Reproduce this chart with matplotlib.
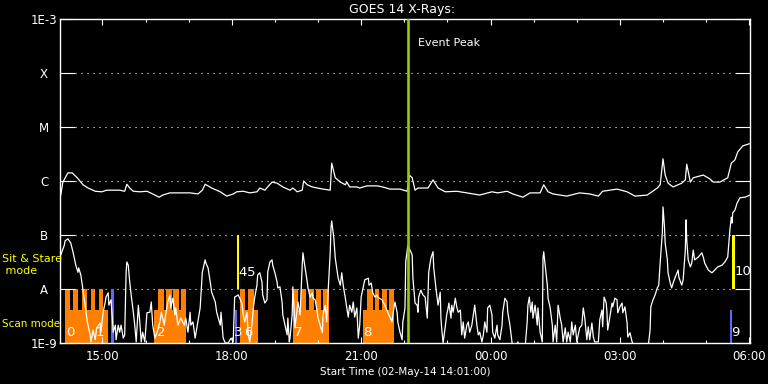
import matplotlib
matplotlib.use("Agg")
import matplotlib.pyplot as plt
import numpy as np
from matplotlib.ticker import FixedLocator, NullLocator, FixedFormatter

TITLE = "GOES 14 X-Rays:"
XLABEL = "Start Time (02-May-14 14:01:00)"

# times in minutes after 2014-05-02 14:01:00, flux as log10(W/m^2)
LONG_T = [1, 4, 11, 17, 24, 32, 39, 49, 58, 65,
          74, 83, 90, 93, 97, 102, 111, 121, 129, 138,
          143, 153, 163, 171, 181, 192, 198, 202, 211, 223,
          232, 241, 246, 255, 264, 274, 278, 285, 289, 295,
          302, 310, 320, 324, 330, 337, 339, 344, 351, 358,
          366, 376, 378, 383, 390, 397, 399, 403, 413, 417,
          427, 441, 449, 459, 473, 483, 486, 490, 494, 498,
          512, 519, 526, 536, 552, 566, 584, 601, 609, 622,
          630, 644, 654, 668, 673, 679, 686, 705, 723, 737,
          749, 755, 775, 789, 800, 817, 831, 835, 839, 842,
          846, 853, 865, 870, 872, 877, 881, 895, 904, 909,
          918, 929, 934, 939, 943, 950, 959]
LONG_LOG = [-6.26, -6.02, -5.85, -5.85, -5.94, -6.07, -6.13, -6.19, -6.20, -6.17,
            -6.17, -6.17, -6.19, -6.06, -6.13, -6.19, -6.20, -6.19, -6.24, -6.30,
            -6.26, -6.22, -6.22, -6.22, -6.22, -6.24, -6.17, -6.06, -6.13, -6.20,
            -6.28, -6.24, -6.20, -6.19, -6.22, -6.20, -6.13, -6.17, -6.11, -6.02,
            -6.04, -6.11, -6.17, -6.13, -6.20, -6.17, -6.00, -6.07, -6.11, -6.13,
            -6.15, -6.17, -5.67, -5.94, -6.02, -6.07, -6.02, -6.11, -6.11, -6.13,
            -6.09, -6.09, -6.11, -6.15, -6.15, -6.19, -5.89, -5.94, -6.17, -6.13,
            -6.13, -5.98, -6.13, -6.20, -6.19, -6.22, -6.26, -6.20, -6.22, -6.19,
            -6.24, -6.30, -6.22, -6.22, -6.07, -6.20, -6.24, -6.28, -6.22, -6.24,
            -6.28, -6.19, -6.15, -6.20, -6.28, -6.26, -6.13, -6.07, -5.59, -5.89,
            -6.04, -6.11, -6.04, -5.98, -5.69, -6.02, -5.94, -5.89, -5.96, -6.02,
            -6.02, -5.94, -5.67, -5.61, -5.46, -5.35, -5.31]

SHORT_T = [1, 6, 7, 11, 15, 18, 22, 25, 26, 29,
           32, 35, 38, 42, 43, 46, 49, 51, 56, 57,
           60, 63, 64, 67, 68, 71, 72, 74, 77, 78,
           81, 83, 85, 88, 90, 92, 93, 95, 97, 99,
           102, 104, 106, 109, 111, 113, 115, 118, 121, 125,
           127, 129, 132, 135, 139, 141, 145, 147, 150, 153,
           154, 157, 160, 161, 164, 168, 173, 175, 178, 181,
           182, 185, 188, 191, 195, 198, 202, 203, 206, 209,
           211, 216, 218, 223, 224, 227, 230, 234, 238, 241,
           243, 248, 250, 253, 255, 257, 260, 262, 264, 267,
           269, 271, 274, 275, 278, 281, 282, 285, 288, 289,
           292, 295, 296, 299, 302, 303, 306, 309, 310, 313,
           316, 317, 319, 320, 323, 324, 327, 330, 331, 334,
           337, 338, 341, 344, 345, 348, 351, 352, 355, 358,
           359, 362, 365, 366, 369, 371, 373, 376, 377, 378,
           381, 383, 385, 387, 390, 392, 394, 397, 399, 401,
           403, 406, 408, 410, 413, 415, 417, 419, 422, 424,
           429, 430, 433, 435, 438, 441, 442, 448, 452, 456,
           462, 463, 466, 469, 470, 473, 476, 477, 480, 481,
           484, 487, 490, 491, 493, 494, 497, 498, 499, 502,
           505, 508, 511, 512, 513, 516, 519, 520, 523, 526,
           529, 530, 531, 533, 536, 538, 540, 541, 544, 545,
           547, 550, 552, 554, 557, 559, 561, 563, 566, 568,
           570, 573, 575, 577, 580, 582, 584, 587, 589, 591,
           594, 595, 598, 601, 602, 605, 608, 609, 612, 615,
           616, 619, 622, 623, 626, 629, 633, 637, 640, 647,
           650, 651, 653, 655, 657, 658, 661, 664, 665, 668,
           671, 672, 673, 675, 678, 679, 682, 685, 686, 689,
           691, 693, 696, 698, 700, 703, 705, 707, 710, 712,
           714, 717, 719, 721, 723, 726, 728, 730, 733, 735,
           737, 740, 742, 744, 749, 751, 754, 755, 757, 760,
           761, 762, 765, 768, 769, 772, 775, 776, 779, 782,
           783, 786, 789, 790, 793, 796, 800, 818, 821, 822,
           825, 828, 831, 833, 835, 838, 839, 841, 842, 845,
           846, 849, 851, 853, 856, 860, 861, 865, 867, 870,
           871, 872, 874, 877, 879, 881, 883, 888, 893, 895,
           897, 902, 907, 911, 915, 921, 925, 929, 932, 934,
           935, 936, 939, 942, 946, 953, 960]
SHORT_LOG = [-7.37, -7.19, -7.11, -7.07, -7.15, -7.31, -7.56, -7.69, -7.61, -7.74,
             -8.02, -8.30, -8.61, -8.85, -8.98, -8.76, -8.94, -8.72, -8.63, -8.80,
             -8.43, -8.24, -8.15, -8.07, -8.30, -8.20, -8.39, -8.80, -8.67, -8.94,
             -8.67, -8.80, -8.67, -8.91, -8.85, -7.69, -7.50, -7.56, -7.87, -8.11,
             -8.43, -8.67, -8.98, -8.30, -8.61, -8.98, -8.80, -8.98, -8.44, -8.43,
             -8.24, -8.67, -8.91, -8.80, -8.61, -8.43, -8.67, -8.48, -8.24, -8.11,
             -8.35, -8.17, -8.48, -8.35, -8.67, -8.54, -8.67, -8.54, -8.80, -8.43,
             -8.67, -8.61, -8.91, -8.67, -8.35, -7.69, -7.46, -7.52, -7.61, -7.87,
             -8.06, -8.24, -8.43, -8.67, -8.43, -8.91, -9.00, -9.00, -8.91, -8.98,
             -8.15, -8.11, -8.17, -8.26, -8.48, -8.61, -8.43, -8.85, -8.98, -8.67,
             -8.35, -8.15, -7.93, -7.74, -7.70, -7.87, -8.11, -8.26, -8.20, -7.69,
             -7.50, -7.46, -7.56, -7.70, -7.87, -7.98, -7.96, -8.24, -8.48, -8.67,
             -8.85, -8.54, -8.98, -8.91, -8.48, -7.96, -8.72, -8.35, -8.24, -8.48,
             -7.56, -7.33, -7.61, -7.87, -7.98, -8.15, -8.07, -8.17, -8.20, -8.43,
             -8.54, -8.67, -8.81, -8.48, -8.30, -8.61, -8.06, -7.31, -6.87, -6.74,
             -7.06, -7.43, -7.61, -7.80, -7.93, -7.70, -7.93, -8.17, -8.35, -8.52,
             -8.30, -8.43, -8.24, -8.52, -8.35, -8.91, -8.67, -8.15, -7.96, -7.83,
             -7.80, -7.93, -7.89, -8.06, -8.15, -8.11, -8.15, -8.20, -8.30, -8.43,
             -8.61, -8.48, -8.24, -8.43, -8.61, -8.80, -8.94, -8.61, -8.35, -7.50,
             -7.19, -7.28, -7.37, -7.80, -8.11, -8.26, -8.30, -8.43, -8.15, -8.02,
             -8.11, -8.15, -8.54, -8.11, -7.69, -7.43, -7.31, -7.61, -7.98, -8.30,
             -8.06, -8.54, -8.72, -9.00, -8.70, -8.48, -8.35, -8.26, -8.54, -8.30,
             -8.43, -8.17, -8.33, -8.43, -8.39, -8.85, -8.61, -8.91, -8.67, -8.61,
             -8.80, -8.67, -8.48, -8.30, -8.67, -8.85, -8.80, -8.98, -8.85, -8.61,
             -8.80, -8.35, -8.30, -8.48, -8.80, -8.91, -8.67, -8.85, -8.94, -8.67,
             -8.43, -8.17, -8.24, -8.43, -8.67, -9.00, -9.10, -8.98, -9.10, -9.10,
             -8.61, -8.30, -8.15, -8.43, -8.24, -8.54, -8.30, -8.67, -8.35, -8.80,
             -8.98, -7.43, -7.31, -7.56, -7.93, -8.17, -8.35, -8.67, -8.98, -8.67,
             -8.98, -8.30, -8.54, -8.67, -8.98, -8.72, -8.98, -8.80, -8.98, -8.61,
             -8.85, -8.67, -8.98, -8.85, -8.72, -8.67, -8.35, -8.52, -8.94, -8.70,
             -8.94, -8.63, -8.89, -8.98, -8.98, -8.57, -8.39, -8.70, -8.15, -8.26,
             -8.44, -8.76, -8.52, -8.26, -8.33, -8.17, -8.20, -8.44, -8.33, -8.26,
             -8.44, -8.33, -8.63, -8.89, -8.81, -8.98, -9.10, -9.10, -8.76, -8.33,
             -8.20, -8.11, -7.98, -7.93, -7.52, -6.96, -6.48, -6.85, -7.15, -7.46,
             -7.70, -7.89, -7.98, -7.89, -7.78, -7.65, -7.78, -7.93, -7.83, -7.28,
             -6.72, -7.09, -7.46, -7.59, -7.52, -7.28, -7.46, -7.41, -7.33, -7.41,
             -7.52, -7.65, -7.70, -7.65, -7.59, -7.56, -7.50, -7.41, -6.91, -6.67,
             -6.78, -6.59, -6.54, -6.41, -6.31, -6.30, -6.26]

# observing mode bars (minutes after start, log10 level)
SCAN_START = [7, 14, 18.5, 25.5, 30, 37, 42.5, 48.5, 54.5, 60,
              131, 137, 144, 147.5, 155.5, 157.5, 165.5, 168,
              251, 257.5, 262, 269.5,
              324, 331, 335, 342, 346.5, 353, 356, 363, 366,
              421, 427, 436, 438, 444, 447.5, 454.5, 458]
SCAN_END = [14, 18.5, 25.5, 30, 37, 42.5, 48.5, 54.5, 60, 67,
            137, 144, 147.5, 155.5, 157.5, 165.5, 168, 175,
            257.5, 262, 269.5, 275,
            331, 335, 342, 346.5, 353, 356, 363, 366, 374,
            427, 436, 438, 444, 447.5, 454.5, 458, 465]
SCAN_LOG = [-8.0, -8.39, -8.0, -8.39, -8.0, -8.39, -8.0, -8.39, -8.0, -8.39,
            -8.39, -8.0, -8.39, -8.0, -8.39, -8.0, -8.39, -8.0,
            -8.0, -8.39, -8.0, -8.39,
            -8.0, -8.39, -8.0, -8.39, -8.0, -8.39, -8.0, -8.39, -8.0,
            -8.39, -8.0, -8.39, -8.0, -8.39, -8.0, -8.39, -8.0]

BLUE_START = [70.5, 243.5, 931.5]
BLUE_END = [74.5, 246.0, 935.5]
BLUE_LOG = [-8.0, -8.39, -8.39]

SIT_START = [246.0, 934.5]
SIT_END = [249.0, 939.0]
SIT_LOG_LOW = [-8.0, -8.0]
SIT_LOG_HIGH = [-7.0, -7.0]

EVENT_PEAK = 483.5

NUM_TEXT = ["0", "1", "2", "3", "6", "4", "5", "7", "8", "9", "10"]
NUM_T = [8, 49, 135, 242, 256, 248, 260, 326, 422, 934, 939]
NUM_LOG = [-8.80, -8.80, -8.80, -8.80, -8.80, -7.69, -7.69, -8.80, -8.80, -8.80, -7.67]

XTICK_POS = [59, 239, 419, 599, 779, 959]
XTICK_LABELS = ["15:00", "18:00", "21:00", "00:00", "03:00", "06:00"]
XMINOR_POS = [59, 119, 179, 239, 299, 359, 419, 479, 539, 599, 659, 719, 779, 839, 899, 959]
YTICK_LOG = [-9, -8, -7, -6, -5, -4, -3]
YTICK_LABELS = ["1E-9", "A", "B", "C", "M", "X", "1E-3"]
GRID_LOG = [-8, -7, -6, -5, -4]

plt.rcParams['font.family'] = ['DejaVu Sans']
W, H = 768, 384
fig = plt.figure(figsize=(W / 100, H / 100), dpi=100, facecolor='black')
ax = fig.add_axes([60 / W, 1 - 343 / H, 690 / W, 324 / H], facecolor='black')
ax.set_yscale('log')
ax.set_xlim(0, 960)
ax.set_ylim(1e-9, 1e-3)

FLOOR = 1e-9
s = np.array(SCAN_START); e = np.array(SCAN_END)
ax.bar(s, 10 ** np.array(SCAN_LOG) - FLOOR, width=e - s, bottom=FLOOR, align='edge',
       color='#ff8000', linewidth=0, antialiased=False, zorder=1)
b = np.array(BLUE_START); be = np.array(BLUE_END)
ax.bar(b, 10 ** np.array(BLUE_LOG) - FLOOR, width=be - b, bottom=FLOOR, align='edge',
       color='#6464ff', linewidth=0, zorder=1.5)
ss = np.array(SIT_START); se = np.array(SIT_END)
lo = 10 ** np.array(SIT_LOG_LOW); hi = 10 ** np.array(SIT_LOG_HIGH)
ax.bar(ss, hi - lo, width=se - ss, bottom=lo, align='edge', color='#ffff00',
       linewidth=0, zorder=1.5)

for g in GRID_LOG:
    ax.axhline(10 ** g, xmin=15 / 690, xmax=675 / 690, color='white', lw=0.8,
               ls=(0, (1, 4.4)), zorder=0.5)

ax.plot(LONG_T, 10 ** np.array(LONG_LOG), color='white', lw=0.9, zorder=3)
ax.plot(SHORT_T, 10 ** np.array(SHORT_LOG), color='white', lw=0.9, zorder=3)

ax.axvline(EVENT_PEAK, color='#99cc00', lw=1.9, zorder=4)
ax.text(EVENT_PEAK + 14, 10 ** -3.44, "Event Peak", color='white', fontsize=8,
        ha='left', va='center', zorder=5)

for t, x, y in zip(NUM_TEXT, NUM_T, NUM_LOG):
    ax.text(x, 10 ** y, t, color='white', fontsize=9.5, ha='left', va='center', zorder=5)

for sp in ax.spines.values():
    sp.set_color('white')
    sp.set_linewidth(1.0)
ax.xaxis.set_major_locator(FixedLocator(XTICK_POS))
ax.xaxis.set_major_formatter(FixedFormatter(XTICK_LABELS))
ax.xaxis.set_minor_locator(FixedLocator(XMINOR_POS))
ax.tick_params(axis='x', which='major', direction='in', top=True, bottom=True,
               length=4.3, width=0.8, color='white', labelcolor='white', labelsize=8.5, pad=5)
ax.tick_params(axis='x', which='minor', direction='in', top=True, bottom=True,
               length=2.2, width=0.8, color='white')
ax.yaxis.set_major_locator(FixedLocator([10.0 ** k for k in YTICK_LOG]))
ax.yaxis.set_major_formatter(FixedFormatter(YTICK_LABELS))
ax.yaxis.set_minor_locator(NullLocator())
ax.tick_params(axis='y', which='major', direction='in', left=True, right=True,
               length=10.8, width=0.8, color='white', labelcolor='white', labelsize=8.5, pad=11.5)
for lab in ax.get_yticklabels():
    lab.set_horizontalalignment('center')

ax.set_xlabel(XLABEL, color='white', fontsize=7.5, labelpad=3)
fig.text(402 / W, 1 - 9.5 / H, TITLE, color='white', fontsize=9, ha='center', va='center')
fig.text(2 / W, 1 - 265 / H, "Sit & Stare\n mode", color='#ffff00', fontsize=8,
         ha='left', va='center', linespacing=1.2)
fig.text(2 / W, 1 - 324 / H, "Scan mode", color='#ffff00', fontsize=7.5,
         ha='left', va='center')

fig.savefig('out.png', dpi=100, facecolor='black')
